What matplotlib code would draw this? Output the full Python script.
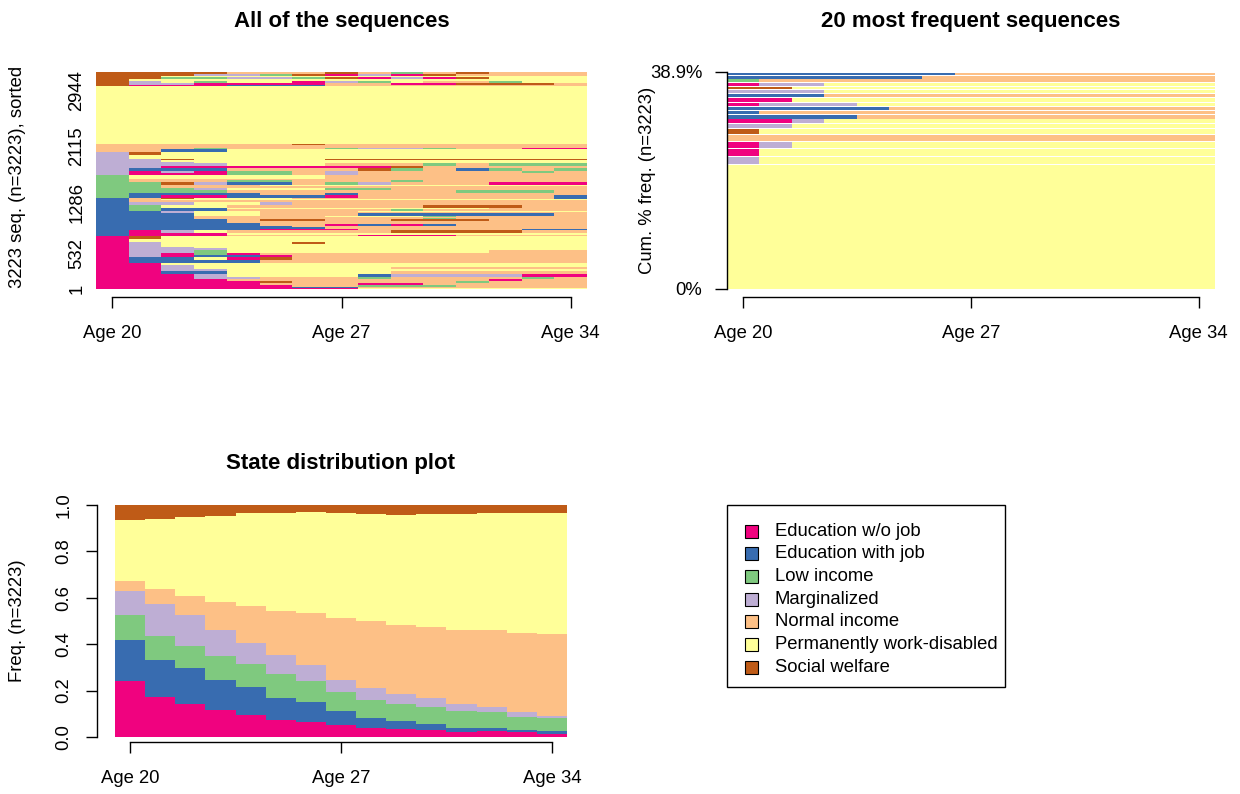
import matplotlib
matplotlib.use("Agg")
import matplotlib.pyplot as plt
from matplotlib.patches import Rectangle
import numpy as np

plt.rcParams['font.family'] = ['Liberation Sans', 'DejaVu Sans']

# ---------------- data ----------------
STATE_CODES = ["P", "B", "G", "M", "N", "D", "S"]
STATE_LABELS = ["Education w/o job", "Education with job", "Low income",
                "Marginalized", "Normal income", "Permanently work-disabled",
                "Social welfare"]
STATE_COLORS = ["#F0027F", "#386CB0", "#7FC97F", "#BEAED4", "#FDC086",
                "#FFFF99", "#BF5B17"]
AGES = list(range(20, 35))
AGE_TICK_VALUES = [20, 27, 34]
N_SEQ = 3223

# state distribution (proportion per age)
DIST_EDU_NOJOB = [.242, .174, .142, .118, .094, .075, .063, .052, .040, .033, .032, .022, .027, .020, .014]
DIST_EDU_JOB   = [.177, .160, .154, .129, .122, .093, .087, .060, .042, .038, .024, .017, .012, .012, .013]
DIST_LOW_INC   = [.105, .103, .098, .104, .099, .104, .090, .081, .079, .073, .075, .075, .069, .056, .054]
DIST_MARGINAL  = [.105, .136, .130, .112, .092, .081, .069, .054, .049, .043, .036, .028, .023, .018, .011]
DIST_NORMAL    = [.043, .067, .085, .121, .158, .188, .226, .265, .288, .294, .308, .321, .331, .343, .351]
DIST_DISABLED  = [.263, .300, .338, .369, .400, .426, .436, .453, .462, .474, .485, .497, .503, .516, .522]
DIST_WELFARE   = [.065, .060, .053, .047, .035, .033, .029, .035, .040, .045, .040, .040, .035, .035, .035]

# index plot: groups of identical (approximated) sequences
IDX_COUNTS = [
    20, 15, 25, 30, 30, 30, 35, 35, 40, 40, 28, 30, 24, 45, 45, 35, 35, 36, 24, 21, 42, 30, 45, 40,
    25, 20, 45, 25, 19, 19, 24, 25, 25, 30, 23, 15, 15, 35, 20, 20, 25, 20, 45, 40, 25, 17, 20,
    35, 35, 40, 40, 20, 20, 40, 30, 20, 58,
    30, 25, 40, 40, 40, 23, 15, 29, 50, 46,
    40, 25, 20, 41,
    852,
    25, 25, 30, 30, 22, 25, 30, 25,
]
IDX_SEQS = [
    "PPPPPPBBNNNNNNN", "PPPPPPPPDDDDDDD", "PPPPPPNNGGGNNNN", "PPPPPNNNPPNNNNN",
    "PPPPPSNNNNNGNNN", "PPPPNNNNNNNNPNN", "PPPMMNNNGNNNNGN", "PPPMDDDDBMMMMPP",
    "PPBBDDDDDNNNNNN", "PPMDDDDDDNNNNNN", "PPMDDDDDDDDDDDD", "PPMMDDDDDDDDDDD",
    "PPDDDDDDDDDDDDD", "PBBBBNNNNNNNNNN", "PBBDPSNNNNNNNNN", "PMPGPNNNNNNNNNN",
    "PMPBBPNNNNNNNNN", "PMMGDDDDDDDDNNN", "PMMMDDDDDDDDDDD", "PMMDDDDDDDDDDDD",
    "PMDDDDDDDDDDDDD", "PMDDDDSDDDDDDDD", "PDDDDDDDDDDDDDD", "PSDDDDDDDDDDDDD",
    "BPPPNNNNPPPNNNN", "BPPPDDDDDDDDDDD", "BPMDNNNNNSSSSNN", "BBBBBPPPNNNNNBB",
    "BBBBBBBNNNNNNNN", "BBBBBBNNNNNNNNN", "BBBBBNNNNNNNNNN", "BBBBBNNPBPBNNNN",
    "BBBBNNNNNNNNNNN", "BBBBNSSNNSSSNNN", "BBBNNNNNNNNNNNN", "BBBNNNNDDDGNNNN",
    "BBBNNNNNNNGNNNN", "BBBDDNNNBBBBBBN", "BBMDDNNNDDDDDDD", "BBMDDNNNNNNNNNN",
    "BGBBNNNNNGNNNNN", "BGBBDDDDDDDDNNN", "BGDDNNNNNNSSSNN", "BMMDDMNNNNNNNNN",
    "BNNNNNNNNNNNNNN", "BNSDDDNNNNNNNNB", "BNDDDDDDDDDDDDD",
    "GBPPBBBPNNNNNNB", "GBBBBNNBNNNNNNN", "GGGGNNNNNNNGGGN", "GGGMDDDGGNNNNNN",
    "GGNNNNNNNNNNNNN", "GGNNNDDDDDDDDDD", "GGSMBBNGMNNNPPP", "GNNNGGNNNGNNNNN",
    "GNNNNNNNNNNNNNN", "GDDDDDDNNNNNNNN",
    "MPPPGGNMNNNNNNN", "MPMPGGNMNNNNNGN", "MBBBNNNNSGNBGNG", "MMPPPPPPPSNNNNN",
    "MMMMDDDNNNGNGGG", "MMMDDDDDDDDDDDD", "MMSDDDDSSSSSSSS", "MMDDDDDDDDDDDDD",
    "MDDDDDDDDDDDDDD", "MSDDDDDDDDDDDDD",
    "NNBBDDDDDDDDDDD", "NNNGNNNGMMGNNPP", "NNNNNNSNNNNNNNN", "NNNNNNNNNNNNNNN",
    "DDDDDDDDDDDDDDD",
    "SPPPBBBNNNNNNNN", "SMMPPPPNNPPSSSN", "SMDGDDPMGDNNGDD", "SDDDDDDDDDDDDDD",
    "SSDDDDDDDDDDDDD", "SSGGMMGSPMPSDDD", "SSSSNNNSNGNSNNN", "SSSMMGSPMPSNNNN",
]
IDX_YTICKS = [1, 532, 1286, 2115, 2944]

# 20 most frequent sequences (most frequent first)
TOP_COUNTS = [719, 50, 45, 42, 41, 30, 29, 28, 25, 25, 24, 24, 24, 23, 23, 22, 21, 20, 19, 19]
TOP_SEQS = [
    "DDDDDDDDDDDDDDD", "MDDDDDDDDDDDDDD", "PDDDDDDDDDDDDDD", "PMDDDDDDDDDDDDD",
    "NNNNNNNNNNNNNNN", "SDDDDDDDDDDDDDD", "MMDDDDDDDDDDDDD", "PPMDDDDDDDDDDDD",
    "BBBBNNNNNNNNNNN", "BNNNNNNNNNNNNNN", "BBBBBNNNNNNNNNN", "PMMMDDDDDDDDDDD",
    "PPDDDDDDDDDDDDD", "BBBNNNNNNNNNNNN", "MMMDDDDDDDDDDDD", "SSDDDDDDDDDDDDD",
    "PMMDDDDDDDDDDDD", "GNNNNNNNNNNNNNN", "BBBBBBNNNNNNNNN", "BBBBBBBNNNNNNNN",
]

# ---------------- helpers ----------------
COL = dict(zip(STATE_CODES, STATE_COLORS))
ORDER = {c: i for i, c in enumerate(STATE_CODES)}
FS = 13.3
W, H = 1240, 794


def box(l, t, r, b):
    return [l / W, 1 - b / H, (r - l) / W, (b - t) / H]


def runs(seq):
    out = []
    j = 0
    while j < len(seq):
        k = j
        while k < len(seq) and seq[k] == seq[j]:
            k += 1
        out.append((j, k - j, seq[j]))
        j = k
    return out


def r_xaxis(ax, offset_px):
    for s in ['top', 'right', 'left']:
        ax.spines[s].set_visible(False)
    tick_pos = [AGES.index(a) + 0.5 for a in AGE_TICK_VALUES]
    ax.spines['bottom'].set_position(('outward', offset_px * 0.72))
    ax.spines['bottom'].set_bounds(tick_pos[0], tick_pos[-1])
    ax.spines['bottom'].set_linewidth(1.0)
    ax.set_xticks(tick_pos)
    ax.set_xticklabels([f"Age {a}" for a in AGE_TICK_VALUES])
    ax.tick_params(axis='x', direction='out', length=8, width=1.0, pad=12, labelsize=FS)
    ax.set_xlim(0, len(AGES))


fig = plt.figure(figsize=(12.4, 7.94), dpi=100)

# ---------------- panel 1: all sequences ----------------
ax1 = fig.add_axes(box(96, 72, 587, 289))
bands = sorted(zip(IDX_COUNTS, IDX_SEQS), key=lambda t: [ORDER[c] for c in t[1]])
ys, ws, ls, hs, cs = [], [], [], [], []
y0 = 0
for cnt, seq in bands:
    for start, length, st in runs(seq):
        ys.append(y0); ws.append(length); ls.append(start); hs.append(cnt); cs.append(COL[st])
    y0 += cnt
ax1.barh(ys, ws, left=ls, height=hs, align='edge', color=cs, linewidth=0, antialiased=False)
ax1.set_ylim(0, N_SEQ)
r_xaxis(ax1, 8)
ax1.set_yticks([v - 0.5 for v in IDX_YTICKS])
ax1.set_yticklabels([str(v) for v in IDX_YTICKS])
ax1.tick_params(axis='y', length=0, pad=7.5, labelsize=FS)
plt.setp(ax1.get_yticklabels(), rotation=90, va='center', ha='right')

# ---------------- panel 2: 20 most frequent ----------------
ax2 = fig.add_axes(box(726.7, 72, 1215, 289))
pct = [c / N_SEQ * 100 for c in TOP_COUNTS]
total_pct = sum(pct)
gap = total_pct / 217 * 0.9
ys, ws, ls, hs, cs = [], [], [], [], []
y0 = 0
for p, seq in zip(pct, TOP_SEQS):
    for start, length, st in runs(seq):
        ys.append(y0); ws.append(length); ls.append(start); hs.append(p - gap); cs.append(COL[st])
    y0 += p
ax2.barh(ys, ws, left=ls, height=hs, align='edge', color=cs, linewidth=0)
ax2.set_ylim(0, total_pct)
r_xaxis(ax2, 8)
ax2.spines['left'].set_visible(True)
ax2.spines['left'].set_bounds(0, total_pct)
ax2.spines['left'].set_linewidth(1.0)
ax2.set_yticks([0, total_pct])
ax2.set_yticklabels(["0%", f"{total_pct:.1f}%"])
ax2.tick_params(axis='y', direction='out', length=8.6, width=1.0, pad=9, labelsize=FS)

# ---------------- panel 3: state distribution ----------------
ax3 = fig.add_axes(box(115, 505, 567, 737))
dist = [DIST_EDU_NOJOB, DIST_EDU_JOB, DIST_LOW_INC, DIST_MARGINAL,
        DIST_NORMAL, DIST_DISABLED, DIST_WELFARE]
bottom = np.zeros(len(AGES))
xs = np.arange(len(AGES))
for vals, color in zip(dist, STATE_COLORS):
    ax3.bar(xs, vals, width=1.0, bottom=bottom, align='edge', color=color,
            linewidth=0, antialiased=False)
    bottom = bottom + np.array(vals)
ax3.set_ylim(0, 1)
r_xaxis(ax3, 5)
ax3.spines['left'].set_visible(True)
ax3.spines['left'].set_position(('outward', 18 * 0.72))
ax3.spines['left'].set_bounds(0, 1)
ax3.spines['left'].set_linewidth(1.0)
yt = [0.0, 0.2, 0.4, 0.6, 0.8, 1.0]
ax3.set_yticks(yt)
ax3.set_yticklabels([f"{v:.1f}" for v in yt])
ax3.tick_params(axis='y', direction='out', length=8, width=1.0, pad=9.5, labelsize=FS)
plt.setp(ax3.get_yticklabels(), rotation=90, va='center', ha='right')

# ---------------- titles and axis labels ----------------
fig.text(341.5 / W, 1 - 21 / H, "All of the sequences", ha='center', va='center',
         fontsize=16, fontweight='bold')
fig.text(970.5 / W, 1 - 21 / H, "20 most frequent sequences", ha='center', va='center',
         fontsize=16, fontweight='bold')
fig.text(341 / W, 1 - 463 / H, "State distribution plot", ha='center', va='center',
         fontsize=16, fontweight='bold')
fig.text(18 / W, 1 - 177 / H, f"{N_SEQ} seq. (n={N_SEQ}), sorted", rotation=90,
         ha='center', va='center', fontsize=FS)
fig.text(648 / W, 1 - 180 / H, f"Cum. % freq. (n={N_SEQ})", rotation=90,
         ha='center', va='center', fontsize=FS)
fig.text(18 / W, 1 - 621 / H, f"Freq. (n={N_SEQ})", rotation=90,
         ha='center', va='center', fontsize=FS)

# ---------------- legend ----------------
axL = fig.add_axes(box(727, 505, 1005, 687))
axL.set_xlim(0, 278)
axL.set_ylim(182, 0)
axL.axis('off')
axL.add_patch(Rectangle((0, 0), 278, 182, fill=False, edgecolor='black', linewidth=1.0,
                        clip_on=False))
for i, (lab, color) in enumerate(zip(STATE_LABELS, STATE_COLORS)):
    yc = 26 + i * 22.7
    axL.add_patch(Rectangle((18, yc - 6.5), 13, 13, facecolor=color, edgecolor='black',
                            linewidth=0.8))
    axL.text(48, yc, lab, ha='left', va='center', fontsize=FS)

fig.savefig("out.png", dpi=100)
